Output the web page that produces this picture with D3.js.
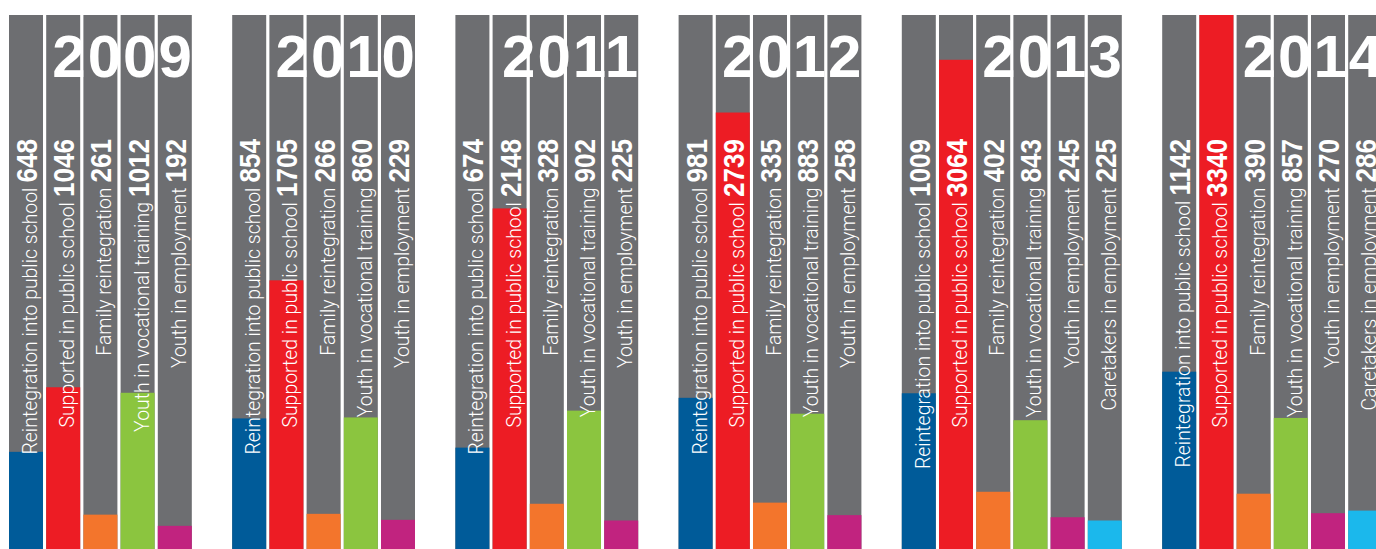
<!DOCTYPE html>
<html lang="en">
<head>
    <meta charset="UTF-8">
    <title>Programme results by year</title>
    <script src="https://d3js.org/d3.v7.min.js"></script>
    <style>
        body { margin: 0; background: #fff; }
        .col-bg { fill: #6d6e71; }
        .year { font-family: "Liberation Sans", Arial, sans-serif; font-weight: bold; font-size: 60px; letter-spacing: 2px; fill: #fff; text-anchor: end; }
        .lbl { font-family: Roboto, "Liberation Sans", sans-serif; font-weight: 300; font-size: 21px; fill: #fff; text-anchor: end; }
        .num { font-family: "Liberation Sans", Arial, sans-serif; font-weight: bold; font-size: 30px; fill: #fff; text-anchor: end; }
    </style>
</head>
<body>
    <script>
        const years = ['2009', '2010', '2011', '2012', '2013', '2014'];
        const categories = [
            'Reintegration into public school',
            'Supported in public school',
            'Family reintegration',
            'Youth in vocational training',
            'Youth in employment',
            'Caretakers in employment'
        ];
        const colors = ['#005b99', '#ed1c24', '#f3752c', '#8bc53f', '#c1237f', '#1bb8ec'];

        const values2009 = [648, 1046, 261, 1012, 192];
        const values2010 = [854, 1705, 266, 860, 229];
        const values2011 = [674, 2148, 328, 902, 225];
        const values2012 = [981, 2739, 335, 883, 258];
        const values2013 = [1009, 3064, 402, 843, 245, 225];
        const values2014 = [1142, 3340, 390, 857, 270, 286];
        const seriesByYear = [values2009, values2010, values2011, values2012, values2013, values2014];

        const W = 1376, H = 549;
        const svg = d3.select('body').append('svg')
            .attr('width', W)
            .attr('height', H);

        // one slot per column, plus an empty slot between years
        const slots = [];
        const cells = [];
        years.forEach((yr, yi) => {
            seriesByYear[yi].forEach((v, ci) => {
                const key = yr + '-' + ci;
                slots.push(key);
                cells.push({ year: yr, key: key, ci: ci, value: v, label: categories[ci], last: ci === seriesByYear[yi].length - 1 });
            });
            if (yi < years.length - 1) slots.push(yr + '-gap');
        });

        const step = 37.2, pad = 0.086;
        const x = d3.scaleBand()
            .domain(slots)
            .range([9, 9 + step * (slots.length - pad)])
            .paddingInner(pad)
            .paddingOuter(0);

        const y = d3.scaleLinear()
            .domain([0, 3340])
            .range([557, 15]);

        const colTop = y(3340);

        // grey columns
        svg.selectAll('.col-bg')
            .data(cells)
            .enter().append('rect')
            .attr('class', 'col-bg')
            .attr('x', d => x(d.key))
            .attr('y', colTop)
            .attr('width', x.bandwidth())
            .attr('height', H - colTop);

        // coloured bars
        svg.selectAll('.bar')
            .data(cells)
            .enter().append('rect')
            .attr('class', 'bar')
            .attr('x', d => x(d.key))
            .attr('y', d => y(d.value))
            .attr('width', x.bandwidth())
            .attr('height', d => y(0) - y(d.value))
            .attr('fill', d => colors[d.ci]);

        // year titles, right aligned on the last column of each year
        svg.selectAll('.year')
            .data(cells.filter(d => d.last))
            .enter().append('text')
            .attr('class', 'year')
            .attr('x', d => x(d.key) + x.bandwidth() + 2)
            .attr('y', 77)
            .text(d => d.year);

        // rotated value + label
        const numScale = 0.87, lblScale = 0.925, textEnd = 139;
        const g = svg.selectAll('.cell-text')
            .data(cells)
            .enter().append('g')
            .attr('class', 'cell-text')
            .attr('transform', d => `translate(${x(d.key) + x.bandwidth() / 2 + 11},0)`);

        g.append('text')
            .attr('class', 'num')
            .attr('transform', `translate(0,${textEnd}) rotate(-90) scale(${numScale},1)`)
            .text(d => d.value);

        g.each(function (d) {
            const numLen = d3.select(this).select('.num').node().getComputedTextLength() * numScale;
            d3.select(this).append('text')
                .attr('class', 'lbl')
                .attr('transform', `translate(0,${textEnd + numLen + 5}) rotate(-90) scale(${lblScale},1)`)
                .text(d.label);
        });
    </script>
</body>
</html>
